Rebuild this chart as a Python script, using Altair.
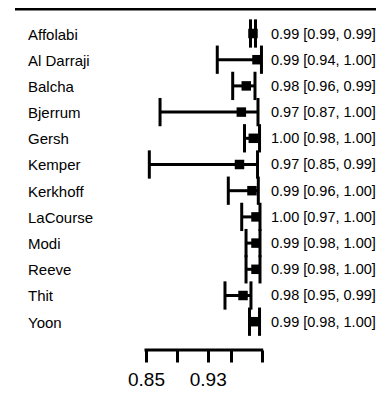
import json
import altair as alt
import pandas as pd

# ---- data ----
studies = ["Affolabi", "Al Darraji", "Balcha", "Bjerrum", "Gersh", "Kemper",
           "Kerkhoff", "LaCourse", "Modi", "Reeve", "Thit", "Yoon"]
est = [0.9887, 0.9939, 0.9800, 0.9736, 0.9891, 0.9712,
       0.9874, 0.9926, 0.9926, 0.9926, 0.9758, 0.9920]
ci_lo = [0.9855, 0.9424, 0.9624, 0.8682, 0.9777, 0.8543,
         0.9567, 0.9741, 0.9797, 0.9797, 0.9524, 0.9842]
ci_hi = [0.9920, 0.9997, 0.9913, 0.9952, 0.9972, 0.9946,
         0.9956, 0.9978, 0.9978, 0.9978, 0.9861, 0.9972]
ci_text = ["0.99 [0.99, 0.99]", "0.99 [0.94, 1.00]", "0.98 [0.96, 0.99]",
           "0.97 [0.87, 1.00]", "1.00 [0.98, 1.00]", "0.97 [0.85, 0.99]",
           "0.99 [0.96, 1.00]", "1.00 [0.97, 1.00]", "0.99 [0.98, 1.00]",
           "0.99 [0.98, 1.00]", "0.98 [0.95, 0.99]", "0.99 [0.98, 1.00]"]
tick_values = [0.85, 0.89, 0.93, 0.96, 1.00]
tick_labels_shown = ["0.85", "0.93"]

df = pd.DataFrame({
    "study": studies,
    "row": list(range(len(studies))),
    "est": est,
    "lo": ci_lo,
    "hi": ci_hi,
    "label": ci_text,
})

FONT = "Liberation Sans"
W, H = 368, 342

xs = alt.Scale(domain=[0.67108, 1.14820], nice=False, zero=False)
ys = alt.Scale(domain=[-0.9733, 12.0802], nice=False, zero=False, reverse=True)

label_expr = ("indexof(%s, format(datum.value, '.2f')) >= 0 ? format(datum.value, '.2f') : ''"
              % json.dumps(tick_labels_shown).replace('"', "'"))
xaxis = alt.Axis(values=tick_values, labelExpr=label_expr, domain=False, grid=False,
                 ticks=True, tickSize=12, tickWidth=3, tickColor="black",
                 labelFontSize=19, labelFont=FONT, labelColor="black",
                 labelPadding=8, labelOverlap=False, labelFlush=False, title=None)

base = alt.Chart(df)
Yrow = alt.Y("row:Q", scale=ys, axis=None)

whisker = base.mark_rule(color="black", strokeWidth=3).encode(
    x=alt.X("lo:Q", scale=xs, axis=xaxis), x2="hi:Q", y=Yrow)

caps = base.transform_fold(["lo", "hi"], as_=["end", "xval"]).transform_calculate(
    ytop="datum.row - 0.54", ybot="datum.row + 0.54"
).mark_rule(color="black", strokeWidth=3).encode(
    x=alt.X("xval:Q", scale=xs, axis=xaxis),
    y=alt.Y("ytop:Q", scale=ys, axis=None), y2="ybot:Q")

squares = base.mark_square(size=90, color="black", opacity=1).encode(
    x=alt.X("est:Q", scale=xs, axis=xaxis), y=Yrow)

names = base.mark_text(align="left", baseline="middle", fontSize=15, font=FONT,
                       color="black", dy=1).encode(
    x=alt.value(20), y=Yrow, text="study:N")

ci_labels = base.mark_text(align="left", baseline="middle", fontSize=14.5, font=FONT,
                           color="black", dy=1).encode(
    x=alt.value(263), y=Yrow, text="label:N")

axis_df = pd.DataFrame({"a": [tick_values[0]], "b": [tick_values[-1]]})
axis_line = alt.Chart(axis_df).mark_rule(color="black", strokeWidth=3, strokeCap="square").encode(
    x=alt.X("a:Q", scale=xs, axis=xaxis), x2="b:Q", y=alt.value(H))

top_line = alt.Chart(axis_df).mark_rule(color="black", strokeWidth=3).encode(
    x=alt.value(7), x2=alt.value(W), y=alt.value(1))

chart = alt.layer(top_line, whisker, caps, squares, names, ci_labels, axis_line).properties(
    width=W, height=H, autosize="none",
    padding={"left": 0, "top": 0, "right": 0, "bottom": 40},
).configure_view(stroke=None)

chart.save("out.html", embed_options={"renderer": "svg", "actions": False})
